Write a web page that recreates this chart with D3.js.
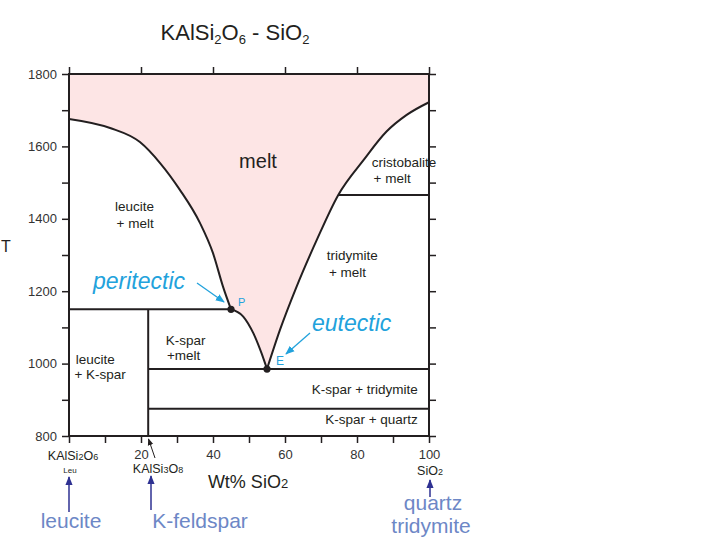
<!DOCTYPE html>
<html>
<head>
<meta charset="utf-8">
<script src="https://cdn.jsdelivr.net/npm/d3@7"></script>
<style>
  body { margin: 0; background: #fff; }
  svg { font-family: "Liberation Sans", Arial, sans-serif; }
</style>
</head>
<body>
<div id="chart"></div>
<script>
// liquidus curves, [wt% SiO2, T]
const leftLiquidus = [[0, 1676], [11.4, 1651], [19.7, 1612], [25.3, 1554], [30.8, 1480], [36.4, 1388], [40, 1305], [42.8, 1212], [45, 1150]];
const periToEut = [[45, 1150], [48.4, 1130], [51.2, 1084], [53.5, 1028], [55, 985]];
const rightLiquidus = [[55, 985], [58.6, 1093], [63.2, 1212], [68.8, 1341], [74.8, 1466], [81.8, 1562], [88.2, 1641], [93.8, 1687], [100, 1722]];

// horizontal reaction lines
const isotherms = [
  { from: 0, to: 45, t: 1150 },
  { from: 22, to: 100, t: 985 },
  { from: 22, to: 100, t: 875 },
  { from: 74.8, to: 100, t: 1466 }
];
const ksparX = 22;
const invariantPts = [{ name: "P", x: 45, t: 1150 }, { name: "E", x: 55, t: 985 }];

const yTicks = d3.range(800, 1801, 100);
const yLabels = [800, 1000, 1200, 1400, 1600, 1800];
const xTicksBottom = d3.range(0, 101, 10);
const xLabels = [20, 40, 60, 80, 100];
const xTicksTop = d3.range(0, 101, 20);

const fieldLabels = [
  { lines: ["leucite", "+ melt"], x: [12.8, 13.2], t: [1421, 1375], anchor: "start" },
  { lines: ["cristobalite", "+ melt"], x: [84.1, 84.6], t: [1543, 1499], anchor: "start" },
  { lines: ["tridymite", "+ melt"], x: [71.6, 72.2], t: [1286, 1240], anchor: "start" },
  { lines: ["K-spar", "+melt"], x: [26.9, 27.2], t: [1051, 1010], anchor: "start" },
  { lines: ["leucite", "+ K-spar"], x: [1.9, 1.5], t: [999, 957], anchor: "start" },
  { lines: ["K-spar + tridymite"], x: [96.9], t: [916], anchor: "end" },
  { lines: ["K-spar + quartz"], x: [96.9], t: [833], anchor: "end" }
];

const W = 706, H = 549;
const svg = d3.select("#chart").append("svg").attr("width", W).attr("height", H);

const x = d3.scaleLinear().domain([0, 100]).range([69, 429]);
const y = d3.scaleLinear().domain([800, 1800]).range([436, 74]);

const line = d3.line().x(d => x(d[0])).y(d => y(d[1])).curve(d3.curveMonotoneX);

// melt field
let meltPath = "M" + x(0) + "," + y(1800)
  + "L" + line(leftLiquidus).substring(1)
  + "L" + line(periToEut).substring(1)
  + "L" + line(rightLiquidus).substring(1)
  + "L" + x(100) + "," + y(1800) + "Z";
svg.append("path").attr("d", meltPath).attr("fill", "#fde5e5");

// axes
const tickStyle = g => {
  g.select(".domain").remove();
  g.selectAll(".tick line").attr("stroke", "#231f20").attr("stroke-width", 1.5);
  g.selectAll("text").attr("fill", "#333").style("font-size", "13px");
};
svg.append("g").attr("transform", "translate(69,0)")
  .call(d3.axisLeft(y).tickValues(yTicks).tickSize(7).tickPadding(5)
    .tickFormat(d => yLabels.includes(d) ? d : ""))
  .call(tickStyle);
svg.append("g").attr("transform", "translate(429,0)")
  .call(d3.axisRight(y).tickValues(yTicks).tickSize(7).tickFormat(""))
  .call(tickStyle);
svg.append("g").attr("transform", "translate(0,74)")
  .call(d3.axisTop(x).tickValues(xTicksTop).tickSize(7).tickFormat(""))
  .call(tickStyle);
svg.append("g").attr("transform", "translate(0,436)")
  .call(d3.axisBottom(x).tickValues(xTicksBottom).tickSize(7).tickPadding(7)
    .tickFormat(d => xLabels.includes(d) ? d : ""))
  .call(tickStyle);

// frame
svg.append("rect").attr("x", x(0)).attr("y", y(1800))
  .attr("width", x(100) - x(0)).attr("height", y(800) - y(1800))
  .attr("fill", "none").attr("stroke", "#231f20").attr("stroke-width", 2);

// phase boundaries
[leftLiquidus, periToEut, rightLiquidus].forEach(c => {
  svg.append("path").attr("d", line(c)).attr("fill", "none")
    .attr("stroke", "#231f20").attr("stroke-width", 2);
});
svg.selectAll(".iso").data(isotherms).enter().append("line")
  .attr("x1", d => x(d.from)).attr("x2", d => x(d.to))
  .attr("y1", d => y(d.t)).attr("y2", d => y(d.t))
  .attr("stroke", "#231f20").attr("stroke-width", 2);
svg.append("line").attr("x1", x(ksparX)).attr("x2", x(ksparX))
  .attr("y1", y(800)).attr("y2", y(1150))
  .attr("stroke", "#231f20").attr("stroke-width", 2);

svg.selectAll(".pt").data(invariantPts).enter().append("circle")
  .attr("cx", d => x(d.x)).attr("cy", d => y(d.t)).attr("r", 3.6).attr("fill", "#231f20");

// field labels
fieldLabels.forEach(f => {
  f.lines.forEach((s, i) => {
    svg.append("text").attr("x", x(f.x[i])).attr("y", y(f.t[i]))
      .attr("text-anchor", f.anchor).attr("fill", "#231f20")
      .style("font-size", "13.5px").text(s);
  });
});
svg.append("text").attr("x", x(52.5)).attr("y", y(1540)).attr("text-anchor", "middle")
  .attr("fill", "#231f20").style("font-size", "20px").text("melt");

// peritectic / eutectic annotations
const cyan = "#22a2dc";
svg.append("defs").html(
  '<marker id="ah" viewBox="0 0 10 10" refX="9" refY="5" markerWidth="7" markerHeight="7" orient="auto">' +
  '<path d="M0,1L10,5L0,9Z" fill="' + cyan + '"/></marker>' +
  '<marker id="ahNavy" viewBox="0 0 10 10" refX="9" refY="5" markerWidth="6" markerHeight="6" orient="auto">' +
  '<path d="M0,1L10,5L0,9Z" fill="#2e3192"/></marker>' +
  '<marker id="ahBlack" viewBox="0 0 10 10" refX="9" refY="5" markerWidth="7" markerHeight="7" orient="auto">' +
  '<path d="M0,1L10,5L0,9Z" fill="#231f20"/></marker>');

svg.append("text").attr("x", 93).attr("y", 289).attr("fill", cyan)
  .style("font-size", "23px").style("font-style", "italic").text("peritectic");
svg.append("text").attr("x", 312).attr("y", 331).attr("fill", cyan)
  .style("font-size", "23px").style("font-style", "italic").text("eutectic");
svg.append("line").attr("x1", 197).attr("y1", 283).attr("x2", 224).attr("y2", 302)
  .attr("stroke", cyan).attr("stroke-width", 1.3).attr("marker-end", "url(#ah)");
svg.append("line").attr("x1", 310).attr("y1", 333).attr("x2", 286).attr("y2", 354)
  .attr("stroke", cyan).attr("stroke-width", 1.3).attr("marker-end", "url(#ah)");
svg.append("text").attr("x", 238).attr("y", 306).attr("fill", cyan).style("font-size", "11px").text("P");
svg.append("text").attr("x", 276).attr("y", 365).attr("fill", cyan).style("font-size", "12px").text("E");

// title and axis titles
const title = svg.append("text").attr("x", 235).attr("y", 40).attr("text-anchor", "middle")
  .attr("fill", "#231f20").style("font-size", "22px");
title.append("tspan").text("KAlSi");
title.append("tspan").attr("dy", 4).style("font-size", "13px").text("2");
title.append("tspan").attr("dy", -4).text("O");
title.append("tspan").attr("dy", 4).style("font-size", "13px").text("6");
title.append("tspan").attr("dy", -4).text(" - SiO");
title.append("tspan").attr("dy", 4).style("font-size", "13px").text("2");

svg.append("text").attr("x", 1).attr("y", 252).attr("fill", "#231f20")
  .style("font-size", "16px").text("T");

const xt = svg.append("text").attr("x", 248).attr("y", 488).attr("text-anchor", "middle")
  .attr("fill", "#231f20").style("font-size", "18px");
xt.append("tspan").text("Wt% SiO");
xt.append("tspan").style("font-size", "13px").text("2");

// compositions under the axis
function formula(px, py, parts, size) {
  const t = svg.append("text").attr("x", px).attr("y", py).attr("text-anchor", "middle")
    .attr("fill", "#231f20").style("font-size", size + "px");
  parts.forEach(p => t.append("tspan").style("font-size", (p.sub ? size * 0.72 : size) + "px").text(p.s));
}
formula(x(0) + 4, 460, [{ s: "KAlSi" }, { s: "2", sub: 1 }, { s: "O" }, { s: "6", sub: 1 }], 12.5);
svg.append("text").attr("x", x(0) + 1).attr("y", 473).attr("text-anchor", "middle")
  .attr("fill", "#231f20").style("font-size", "8px").text("Leu");
formula(158, 473, [{ s: "KAlSi" }, { s: "3", sub: 1 }, { s: "O" }, { s: "8", sub: 1 }], 12.5);
formula(x(100) + 1, 475, [{ s: "SiO" }, { s: "2", sub: 1 }], 12.5);

svg.append("line").attr("x1", 155).attr("y1", 458).attr("x2", 148.5).attr("y2", 439)
  .attr("stroke", "#231f20").attr("stroke-width", 1).attr("marker-end", "url(#ahBlack)");

// mineral arrows and names
const navy = "#2e3192", lilac = "#6d87c6";
[[x(0), 512, 477], [151, 510, 476], [x(100) + 1, 497, 480]].forEach(a => {
  svg.append("line").attr("x1", a[0]).attr("x2", a[0]).attr("y1", a[1]).attr("y2", a[2])
    .attr("stroke", navy).attr("stroke-width", 1.5).attr("marker-end", "url(#ahNavy)");
});
const minerals = [
  { s: "leucite", x: 71, y: 528 },
  { s: "K-feldspar", x: 200, y: 528 },
  { s: "quartz", x: 433, y: 510 },
  { s: "tridymite", x: 431, y: 533 }
];
minerals.forEach(m => {
  svg.append("text").attr("x", m.x).attr("y", m.y).attr("text-anchor", "middle")
    .attr("fill", lilac).style("font-size", "21px").text(m.s);
});
</script>
</body>
</html>
